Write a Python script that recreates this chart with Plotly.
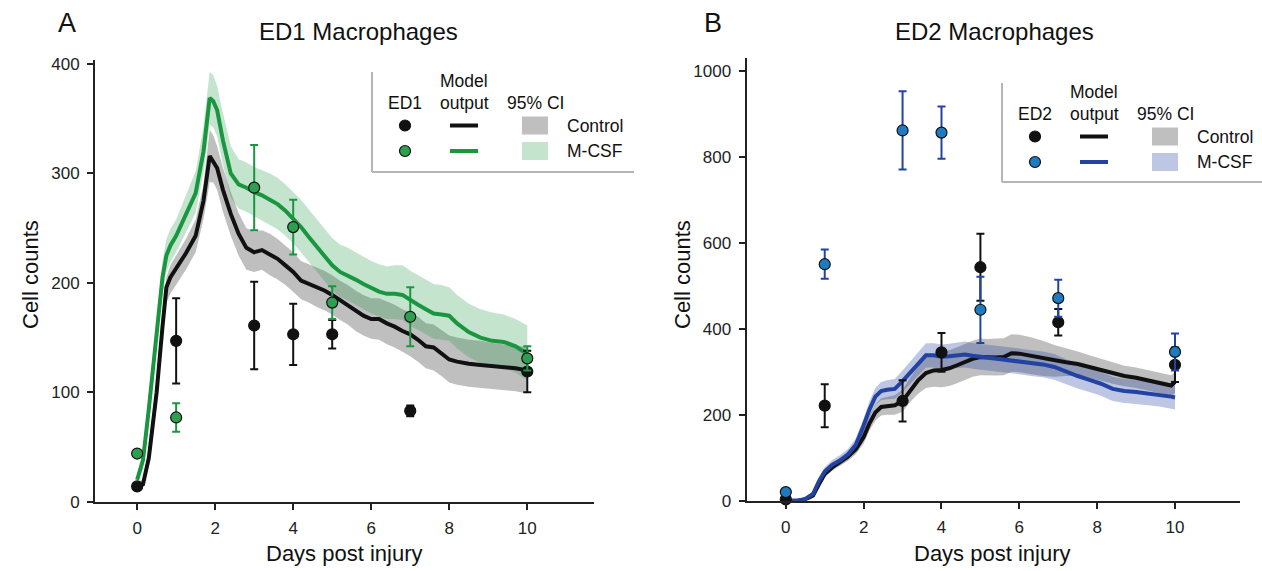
import plotly.graph_objects as go

# ---------------- data ----------------
days_obs = [0, 1, 3, 4, 5, 7, 10]

# ED1 observations
ed1_ctrl = [14, 147, 161, 153, 153, 83, 119]
ed1_ctrl_err = [0, 39, 40, 28, 13, 5, 19]
ed1_mcsf = [44, 77, 287, 251, 182, 169, 131]
ed1_mcsf_err = [0, 13, 39, 25, 15, 27, 11]

# ED2 observations
ed2_ctrl = [3, 221, 232, 345, 543, 415, 316]
ed2_ctrl_err = [0, 50, 48, 45, 78, 31, 40]
ed2_mcsf = [20, 550, 861, 856, 444, 471, 346]
ed2_mcsf_err = [0, 34, 91, 61, 77, 43, 43]

# ED1 model output
t1 = [0, 0.15, 0.3, 0.5, 0.65, 0.75, 0.85, 1.0, 1.25, 1.5, 1.7, 1.86, 1.95, 2.05, 2.2, 2.4, 2.6,
      2.8, 3.0, 3.2, 3.4, 3.6, 3.8, 4.0, 4.2, 4.4, 4.6, 4.8, 5.0, 5.2, 5.4, 5.6, 5.8, 6.0,
      6.2, 6.4, 6.6, 6.8, 7.0, 7.2, 7.4, 7.6, 7.8, 8.0, 8.2, 8.5, 8.8, 9.1, 9.4, 9.7, 10.0]
ed1_ctrl_model = [14, 16, 40, 100, 160, 196, 205, 213, 227, 243, 275, 316, 310, 305, 285, 263, 245,
                  232, 228, 230, 226, 222, 216, 210, 202, 199, 196, 193, 189, 184, 180, 174, 170, 167,
                  167, 163, 160, 156, 153, 148, 142, 141, 136, 130, 128, 126, 125, 124, 123, 122, 120]
ed1_ctrl_lo = [12, 13, 33, 88, 147, 182, 190, 198, 212, 228, 258, 292, 292, 285, 265, 243, 225,
               212, 210, 212, 207, 203, 198, 192, 185, 182, 178, 175, 171, 166, 162, 156, 152, 149,
               148, 144, 141, 137, 133, 128, 122, 120, 115, 109, 107, 105, 104, 103, 102, 101, 99]
ed1_ctrl_hi = [18, 20, 48, 112, 173, 205, 216, 225, 240, 258, 290, 340, 335, 325, 305, 283, 264,
               250, 247, 248, 245, 240, 234, 228, 220, 217, 214, 211, 207, 202, 198, 193, 189, 186,
               186, 183, 180, 176, 173, 169, 163, 162, 157, 152, 150, 148, 147, 145, 144, 143, 141]
ed1_mcsf_model = [20, 38, 85, 158, 205, 225, 234, 243, 262, 282, 320, 369, 366, 358, 330, 300, 290,
                  287, 283, 280, 276, 272, 266, 259, 251, 242, 233, 225, 216, 210, 207, 203, 199, 195,
                  192, 190, 190, 189, 184, 180, 176, 172, 171, 170, 163, 155, 150, 147, 146, 142, 135]
ed1_mcsf_lo = [17, 30, 72, 145, 190, 210, 219, 228, 246, 264, 300, 345, 342, 334, 308, 278, 268,
               265, 261, 257, 253, 249, 243, 236, 228, 219, 210, 202, 193, 187, 184, 180, 176, 172,
               169, 167, 167, 166, 161, 157, 153, 149, 148, 147, 140, 132, 127, 124, 122, 118, 111]
ed1_mcsf_hi = [23, 45, 98, 170, 220, 240, 249, 258, 280, 302, 343, 393, 390, 380, 355, 325, 313,
               310, 306, 303, 300, 296, 290, 283, 276, 267, 258, 250, 241, 235, 232, 228, 224, 220,
               217, 215, 216, 216, 211, 207, 203, 199, 198, 196, 189, 181, 176, 173, 171, 167, 161]

# ED2 model output
t2 = [0, 0.3, 0.5, 0.7, 0.85, 1.0, 1.2, 1.4, 1.6, 1.8, 2.0, 2.15, 2.3, 2.45, 2.6, 2.8, 3.0, 3.2,
      3.4, 3.6, 3.8, 4.0, 4.2, 4.4, 4.6, 4.8, 5.0, 5.2, 5.4, 5.6, 5.8, 6.0, 6.3, 6.6, 6.9, 7.2,
      7.5, 7.8, 8.1, 8.4, 8.7, 9.0, 9.3, 9.6, 9.9, 10.0]
ed2_ctrl_model = [0, 0, 3, 12, 38, 62, 78, 90, 103, 120, 148, 180, 205, 218, 220, 222, 232, 258,
                  280, 297, 303, 304, 308, 315, 322, 330, 334, 333, 333, 334, 343, 342, 337, 331, 325, 322,
                  318, 311, 304, 296, 290, 286, 280, 273, 268, 276]
ed2_ctrl_lo = [0, 0, 1, 7, 30, 54, 70, 81, 93, 108, 133, 163, 186, 198, 200, 200, 207, 230,
               249, 262, 265, 264, 267, 273, 280, 288, 292, 291, 291, 292, 300, 299, 295, 290, 288, 290,
               290, 285, 279, 272, 266, 262, 256, 249, 244, 250]
ed2_ctrl_hi = [2, 2, 6, 18, 46, 70, 87, 100, 114, 133, 164, 198, 224, 238, 241, 245, 258, 287,
               312, 333, 342, 346, 350, 357, 364, 372, 377, 376, 377, 378, 387, 386, 380, 372, 362, 355,
               347, 338, 330, 321, 314, 310, 304, 297, 292, 300]
ed2_mcsf_model = [0, 0, 4, 16, 45, 68, 84, 94, 108, 130, 175, 212, 242, 255, 258, 260, 278, 298,
                  318, 338, 338, 335, 336, 338, 340, 337, 335, 333, 330, 328, 326, 324, 320, 317, 311, 300,
                  290, 281, 272, 260, 255, 253, 250, 247, 242, 240]
ed2_mcsf_lo = [0, 0, 2, 10, 36, 58, 74, 83, 96, 116, 158, 193, 222, 234, 236, 237, 253, 272,
               291, 310, 310, 307, 307, 309, 310, 307, 305, 303, 300, 298, 296, 294, 290, 287, 281, 271,
               261, 253, 244, 232, 227, 225, 222, 219, 214, 212]
ed2_mcsf_hi = [2, 2, 7, 22, 54, 78, 95, 106, 121, 145, 192, 231, 262, 276, 280, 283, 303, 324,
               345, 366, 366, 363, 365, 367, 370, 367, 365, 363, 360, 358, 356, 354, 350, 347, 341, 329,
               319, 309, 300, 288, 283, 281, 278, 275, 270, 268]

# ---------------- styles ----------------
W, H = 1262, 571
FONT = "Liberation Sans, Arial, sans-serif"
BLACK = "#111111"
GREEN = "#1a9641"
GREEN_PT = "#2e9e50"
GREEN_BAND = "rgba(26,150,65,0.26)"
BLUE = "#2343a3"
BLUE_PT = "#1f7bc0"
BLUE_BAND = "rgba(35,67,163,0.30)"
GRAY_BAND = "rgba(128,128,128,0.50)"


def px(x):
    return x / W


def py(y):
    return 1 - y / H


fig = go.Figure()


def band(t, lo, hi, color, xa, ya):
    fig.add_trace(go.Scatter(x=t, y=lo, mode="lines", line=dict(width=0), hoverinfo="skip",
                             showlegend=False, xaxis=xa, yaxis=ya))
    fig.add_trace(go.Scatter(x=t, y=hi, mode="lines", line=dict(width=0), fill="tonexty",
                             fillcolor=color, hoverinfo="skip", showlegend=False, xaxis=xa, yaxis=ya))


def model(t, y, color, xa, ya):
    fig.add_trace(go.Scatter(x=t, y=y, mode="lines", line=dict(color=color, width=4),
                             showlegend=False, xaxis=xa, yaxis=ya))


def obs(y, err, color, fill, xa, ya):
    fig.add_trace(go.Scatter(x=days_obs, y=y, mode="markers",
                             error_y=dict(type="data", array=err, color=color, thickness=2, width=4),
                             marker=dict(size=11, color=fill, line=dict(color=BLACK, width=1.2)),
                             cliponaxis=False, showlegend=False, xaxis=xa, yaxis=ya))


# Panel A
band(t1, ed1_ctrl_lo, ed1_ctrl_hi, GRAY_BAND, "x", "y")
band(t1, ed1_mcsf_lo, ed1_mcsf_hi, GREEN_BAND, "x", "y")
model(t1, ed1_ctrl_model, BLACK, "x", "y")
model(t1, ed1_mcsf_model, GREEN, "x", "y")
obs(ed1_ctrl, ed1_ctrl_err, BLACK, BLACK, "x", "y")
obs(ed1_mcsf, ed1_mcsf_err, GREEN, GREEN_PT, "x", "y")

# Panel B
band(t2, ed2_ctrl_lo, ed2_ctrl_hi, GRAY_BAND, "x2", "y2")
band(t2, ed2_mcsf_lo, ed2_mcsf_hi, BLUE_BAND, "x2", "y2")
model(t2, ed2_ctrl_model, BLACK, "x2", "y2")
model(t2, ed2_mcsf_model, BLUE, "x2", "y2")
obs(ed2_ctrl, ed2_ctrl_err, BLACK, BLACK, "x2", "y2")
obs(ed2_mcsf, ed2_mcsf_err, BLUE, BLUE_PT, "x2", "y2")

axis_common = dict(showline=True, linecolor="#222", linewidth=2, ticks="outside", ticklen=6,
                   tickwidth=2, tickcolor="#222", showgrid=False, zeroline=False,
                   automargin=False, tickfont=dict(family=FONT, size=17, color="#222"))

fig.update_layout(
    template="none",
    width=W, height=H, margin=dict(l=0, r=0, t=0, b=0, pad=0, autoexpand=False),
    paper_bgcolor="white", plot_bgcolor="white", showlegend=False,
    font=dict(family=FONT, color="#111"),
    xaxis=dict(domain=[px(95), px(594)], range=[-1.08, 11.71], tickvals=[0, 2, 4, 6, 8, 10],
               anchor="y", ticklabelstandoff=4, **axis_common),
    yaxis=dict(domain=[py(501.7), py(60)], range=[0, 403.7], tickvals=[0, 100, 200, 300, 400],
               anchor="x", ticklabelstandoff=4, **axis_common),
    xaxis2=dict(domain=[px(746.5), px(1240)], range=[-1.01, 11.67], tickvals=[0, 2, 4, 6, 8, 10],
                anchor="y2", ticklabelstandoff=4, **axis_common),
    yaxis2=dict(domain=[py(500.7), py(58)], range=[0, 1029.5], tickvals=[0, 200, 400, 600, 800, 1000],
                anchor="x2", ticklabelstandoff=4, **axis_common),
)

ann = []
shapes = []


def text(x, y, s, size=17.5, xanchor="center", angle=0):
    ann.append(dict(x=px(x), y=py(y), xref="paper", yref="paper", text=s, showarrow=False,
                    xanchor=xanchor, yanchor="middle", textangle=angle,
                    font=dict(family=FONT, size=size, color="#111")))


# panel letters and titles
text(67, 23, "A", 27)
text(713, 23, "B", 27)
text(358, 31, "ED1 Macrophages", 24)
text(994, 31, "ED2 Macrophages", 24)
# axis titles
text(344, 553, "Days post injury", 22)
text(993, 553, "Days post injury", 22)
text(31, 275, "Cell counts", 22, angle=-90)
text(683, 275, "Cell counts", 22, angle=-90)


def legend(left, top, bottom, right, label, color_line, color_pt, color_band):
    shapes.append(dict(type="line", xref="paper", yref="paper", x0=px(left), x1=px(left),
                       y0=py(top), y1=py(bottom), line=dict(color="#b5b5b5", width=2)))
    shapes.append(dict(type="line", xref="paper", yref="paper", x0=px(left), x1=px(right),
                       y0=py(bottom), y1=py(bottom), line=dict(color="#b5b5b5", width=2)))
    cx_dot = left + 33
    cx_line = left + 92
    cx_sq = left + 163
    r1 = top + 53.5
    r2 = top + 79
    text(cx_dot, top + 31, label)
    text(cx_line, top + 9, "Model")
    text(cx_line, top + 31, "output")
    text(cx_sq, top + 31, "95% CI")
    for ry, pc, lc, bc, name in [(r1, BLACK, BLACK, GRAY_BAND, "Control"),
                                 (r2, color_pt, color_line, color_band, "M-CSF")]:
        shapes.append(dict(type="circle", xref="paper", yref="paper", x0=px(cx_dot - 5.5),
                           x1=px(cx_dot + 5.5), y0=py(ry + 5.5), y1=py(ry - 5.5),
                           fillcolor=pc, line=dict(color=BLACK, width=1.2)))
        shapes.append(dict(type="line", xref="paper", yref="paper", x0=px(cx_line - 14),
                           x1=px(cx_line + 14), y0=py(ry), y1=py(ry), line=dict(color=lc, width=4)))
        shapes.append(dict(type="rect", xref="paper", yref="paper", x0=px(cx_sq - 13),
                           x1=px(cx_sq + 13), y0=py(ry + 9), y1=py(ry - 9), fillcolor=bc,
                           line=dict(width=0)))
        text(cx_sq + 30, ry, name, xanchor="left")


legend(372, 72, 172, 634, "ED1", GREEN, GREEN_PT, GREEN_BAND)
legend(1002, 83, 182, 1262, "ED2", BLUE, BLUE_PT, BLUE_BAND)

fig.update_layout(annotations=ann, shapes=shapes)

post = (
    "document.documentElement.style.margin='0';"
    "document.body.style.margin='0';document.body.style.padding='0';"
    "document.body.style.overflow='hidden';"
)

fig.write_html("out.html", config={"displayModeBar": False}, post_script=post)
